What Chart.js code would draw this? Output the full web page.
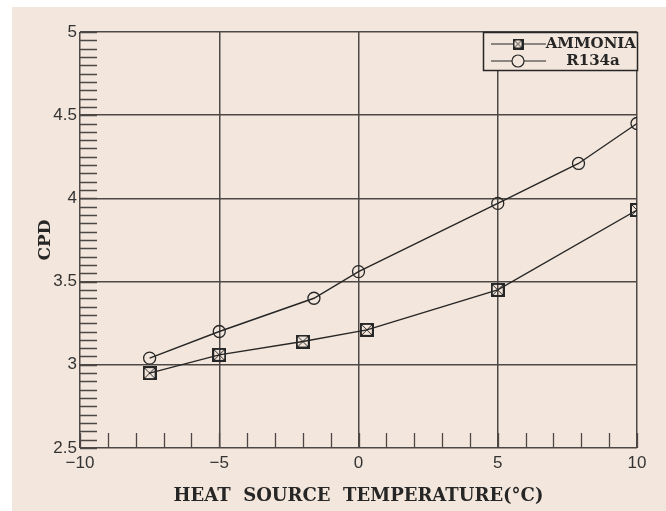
<!DOCTYPE html>
<html>
<head>
<meta charset="utf-8">
<script src="https://cdn.jsdelivr.net/npm/chart.js@4"></script>
<style>
  html, body { margin: 0; padding: 0; background: #fff; }
  #wrap { width: 666px; height: 511px; }
</style>
</head>
<body>
<div id="wrap"><canvas id="chart" width="666" height="511"></canvas></div>
<script>
// ── Données ────────────────────────────────────────────────────
const seriesNames = ['AMMONIA', 'R134a'];
const ammoniaX = [-7.5, -5, -2, 0.3, 5, 10];
const ammoniaY = [2.95, 3.06, 3.14, 3.21, 3.45, 3.93];
const r134aX   = [-7.5, -5, -1.6, 0, 5, 7.9, 10];
const r134aY   = [3.04, 3.2, 3.4, 3.56, 3.97, 4.21, 4.45];
const xTicks   = [-10, -5, 0, 5, 10];
const yTicks   = [2.5, 3, 3.5, 4, 4.5, 5];

const INK  = '#262626';
const GRID = '#4d4845';
const BG   = '#f3e6dc';
const SERIF = '"DejaVu Serif", serif';
const SANS  = '"Liberation Sans", Arial, sans-serif';

const pts = (xs, ys) => xs.map((x, i) => ({ x, y: ys[i] }));

// carré barré (marqueur AMMONIA)
function boxCross(size) {
  const c = document.createElement('canvas');
  c.width = c.height = size;
  const g = c.getContext('2d');
  g.strokeStyle = INK;
  g.lineWidth = 2;
  g.strokeRect(1, 1, size - 2, size - 2);
  g.lineWidth = 1;
  g.beginPath();
  g.moveTo(2, 2); g.lineTo(size - 2, size - 2);
  g.moveTo(size - 2, 2); g.lineTo(2, size - 2);
  g.stroke();
  return c;
}
const boxMark = boxCross(14);
const boxMarkSmall = boxCross(11);

// ── Plugins ────────────────────────────────────────────────────
const background = {
  id: 'background',
  beforeDraw(chart) {
    const { ctx, width, height } = chart;
    ctx.save();
    ctx.fillStyle = '#fff';
    ctx.fillRect(0, 0, width, height);
    ctx.fillStyle = BG;
    ctx.fillRect(12, 7, width - 12, height - 7);
    ctx.restore();
  },
};

const minorTicks = {
  id: 'minorTicks',
  beforeDatasetsDraw(chart) {
    const { ctx, chartArea: a, scales: { x, y } } = chart;
    ctx.save();
    ctx.strokeStyle = GRID;
    ctx.lineWidth = 1.3;
    ctx.beginPath();
    for (let i = 0; i <= 20; i++) {
      const px = Math.round(x.getPixelForValue(x.min + i)) + 0.5;
      ctx.moveTo(px, a.bottom);
      ctx.lineTo(px, a.bottom - 15);
    }
    for (let i = 0; i <= 50; i++) {
      const py = Math.round(y.getPixelForValue(y.min + i * 0.05)) + 0.5;
      ctx.moveTo(a.left, py);
      ctx.lineTo(a.left + 17, py);
    }
    ctx.stroke();
    ctx.restore();
  },
};

const boxLegend = {
  id: 'boxLegend',
  afterDatasetsDraw(chart) {
    const { ctx, chartArea: a } = chart;
    const w = 154, h = 38;
    const x0 = a.right - w, y0 = a.top;
    ctx.save();
    ctx.fillStyle = BG;
    ctx.fillRect(x0, y0, w, h);
    ctx.strokeStyle = INK;
    ctx.lineWidth = 1.5;
    ctx.strokeRect(x0 + 0.5, y0 + 0.5, w, h);

    const rows = [y0 + 12, y0 + 29];
    ctx.lineWidth = 1.2;
    rows.forEach((ry, i) => {
      ctx.beginPath();
      ctx.moveTo(x0 + 8, ry);
      ctx.lineTo(x0 + 63, ry);
      ctx.stroke();
      const mx = x0 + 35;
      if (i === 0) {
        ctx.fillStyle = BG;
        ctx.fillRect(mx - 5, ry - 5, 11, 11);
        ctx.drawImage(boxMarkSmall, mx - 5.5, ry - 5.5);
      } else {
        ctx.fillStyle = BG;
        ctx.beginPath();
        ctx.arc(mx, ry, 6, 0, Math.PI * 2);
        ctx.fill();
        ctx.stroke();
      }
    });
    ctx.fillStyle = INK;
    ctx.font = 'bold 15px ' + SERIF;
    ctx.textBaseline = 'middle';
    ctx.textAlign = 'right';
    ctx.fillText(chart.data.datasets[0].label, x0 + w - 1, rows[0]);
    ctx.textAlign = 'center';
    ctx.fillText(chart.data.datasets[1].label, x0 + 110, rows[1]);
    ctx.restore();
  },
};

// ── Graphique ──────────────────────────────────────────────────
const ctx = document.getElementById('chart').getContext('2d');
new Chart(ctx, {
  type: 'scatter',
  data: {
    datasets: [
      {
        label: seriesNames[0],
        data: pts(ammoniaX, ammoniaY),
        showLine: true,
        borderColor: INK,
        borderWidth: 1.4,
        pointStyle: boxMark,
        pointRadius: 7,
      },
      {
        label: seriesNames[1],
        data: pts(r134aX, r134aY),
        showLine: true,
        borderColor: INK,
        borderWidth: 1.4,
        backgroundColor: 'rgba(0,0,0,0)',
        pointStyle: 'circle',
        pointRadius: 6,
        pointBorderWidth: 1.3,
      },
    ],
  },
  options: {
    responsive: false,
    animation: false,
    devicePixelRatio: 1,
    layout: { padding: { top: 32, right: 29, left: 0, bottom: 0 } },
    plugins: { legend: { display: false }, tooltip: { enabled: false } },
    scales: {
      x: {
        type: 'linear',
        min: -10,
        max: 10,
        afterBuildTicks: s => { s.ticks = xTicks.map(value => ({ value })); },
        afterFit: s => { s.height = 63; },
        grid: { color: GRID, lineWidth: 1.5, drawTicks: false },
        border: { display: false },
        ticks: {
          color: '#333',
          padding: 5,
          maxRotation: 0,
          font: { family: SANS, size: 17 },
          callback: v => String(v).replace('-', '\u2212'),
        },
        title: {
          display: true,
          text: 'HEAT  SOURCE  TEMPERATURE(°C)',
          color: INK,
          font: { family: SERIF, size: 18, weight: 'bold' },
          padding: { top: 0, bottom: 4 },
        },
      },
      y: {
        type: 'linear',
        min: 2.5,
        max: 5,
        afterBuildTicks: s => { s.ticks = yTicks.map(value => ({ value })); },
        afterFit: s => { s.width = 80; },
        grid: { color: GRID, lineWidth: 1.5, drawTicks: false },
        border: { display: false },
        ticks: {
          color: '#333',
          padding: 3,
          font: { family: SANS, size: 17 },
          callback: v => String(v),
        },
        title: {
          display: true,
          text: 'CPD',
          color: INK,
          font: { family: SERIF, size: 17, weight: 'bold' },
          padding: { top: 35, bottom: 0 },
        },
      },
    },
  },
  plugins: [background, minorTicks, boxLegend],
});
</script>
</body>
</html>
